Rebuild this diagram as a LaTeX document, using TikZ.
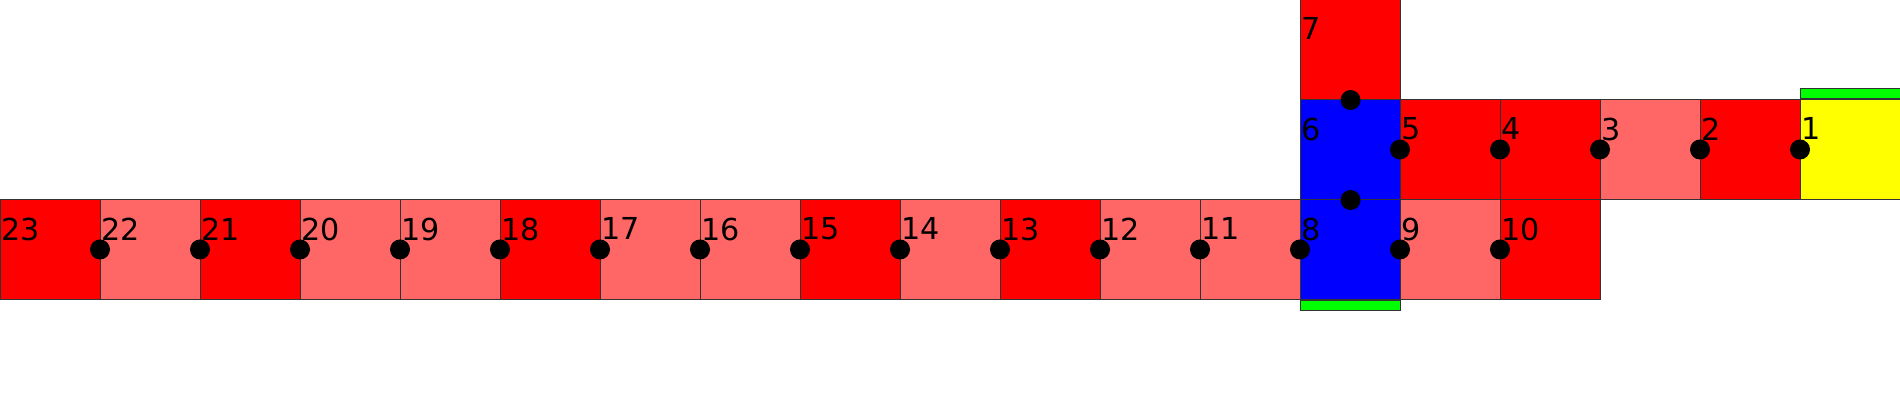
\documentclass[tikz,border=0pt]{standalone}
\usepackage{fontspec}
\setmainfont{DejaVu Sans}
\usetikzlibrary{positioning}
\definecolor{pale}{HTML}{FF6666}
\definecolor{lemon}{HTML}{FFFF00}

\begin{document}
\begin{tikzpicture}[every node/.style={font=\fontsize{8.6}{10}\selectfont},
	cell/.style={draw=black!80, line width=0.3pt, minimum size=1cm, inner sep=0pt, anchor=south west},
	num/.style={anchor=north west, inner sep=0pt},
	joint/.style={circle, fill=black, minimum size=2mm, inner sep=0pt},
	bar/.style={draw=black!80, line width=0.3pt, fill=green, minimum width=1cm, minimum height=1mm, inner sep=0pt}]
	\useasboundingbox (0,0) rectangle (19,4);
	% cells with their numbers
	\foreach \n/\x/\y/\c in {23/0/1/red, 22/1/1/pale, 21/2/1/red, 20/3/1/pale, 19/4/1/pale, 18/5/1/red,
		17/6/1/pale, 16/7/1/pale, 15/8/1/red, 14/9/1/pale, 13/10/1/red, 12/11/1/pale, 11/12/1/pale,
		8/13/1/blue, 9/14/1/pale, 10/15/1/red, 6/13/2/blue, 5/14/2/red, 4/15/2/red, 3/16/2/pale,
		2/17/2/red, 1/18/2/lemon, 7/13/3/red}{
		\node[cell, fill=\c] (c\n) at (\x,\y) {};
		\node[num] (l\n) at ([shift={(0.01,-0.18)}]c\n.north west) {\n};
	}
	\node[bar, anchor=north] (g8) at (c8.south) {};
	\node[bar, anchor=south] (g1) at (c1.north) {};
	% joints
	\foreach \n in {22,21,20,19,18,17,16,15,14,13,12,11,8,9,10,5,4,3,2,1}
		\node[joint] (d\n) at (c\n.west) {};
	\node[joint] (d7) at (c7.south) {};
	\node[joint] (d6) at (c6.south) {};
\end{tikzpicture}
\end{document}
